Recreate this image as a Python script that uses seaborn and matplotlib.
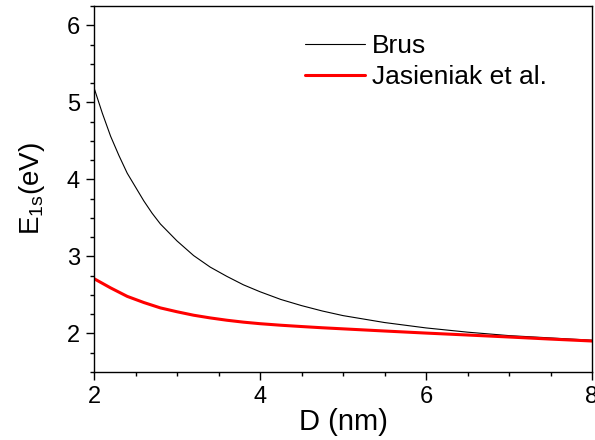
import pandas as pd
import matplotlib
matplotlib.use("Agg")
import matplotlib.pyplot as plt
import seaborn as sns
from matplotlib.ticker import MultipleLocator
from matplotlib.lines import Line2D

# --- data ---
diameter = [2.0, 2.1, 2.2, 2.3, 2.4, 2.5, 2.6, 2.7, 2.8, 2.9, 3.0,
            3.2, 3.4, 3.6, 3.8, 4.0, 4.25, 4.5, 4.75, 5.0,
            5.5, 6.0, 6.5, 7.0, 7.5, 8.0]
brus = [5.19, 4.86, 4.56, 4.31, 4.08, 3.90, 3.72, 3.56, 3.42, 3.31, 3.20,
        3.01, 2.86, 2.74, 2.63, 2.54, 2.44, 2.36, 2.29, 2.23,
        2.14, 2.07, 2.015, 1.97, 1.94, 1.91]
jasieniak = [2.71, 2.65, 2.59, 2.535, 2.48, 2.44, 2.40, 2.365, 2.33, 2.305, 2.28,
             2.235, 2.20, 2.17, 2.145, 2.125, 2.105, 2.088, 2.072, 2.058,
             2.03, 2.003, 1.978, 1.952, 1.925, 1.90]
series_names = ["Brus", "Jasieniak et al."]

df = pd.DataFrame({
    "D": diameter * 2,
    "E": brus + jasieniak,
    "model": [series_names[0]] * len(diameter) + [series_names[1]] * len(diameter),
})

sns.set_theme(style="ticks")
plt.rcParams["font.family"] = ["Liberation Sans", "DejaVu Sans"]
plt.rcParams["mathtext.default"] = "regular"
plt.rcParams["text.color"] = "black"
plt.rcParams["axes.labelcolor"] = "black"

fig = plt.figure(figsize=(5.95, 4.4), dpi=100)
ax = fig.add_axes([0.158, 0.155, 0.837, 0.831])

sns.lineplot(data=df, x="D", y="E", hue="model",
             palette={"Brus": "black", "Jasieniak et al.": "#ff0000"},
             size="model", sizes={"Brus": 0.8, "Jasieniak et al.": 2.2},
             ax=ax, legend=False)

ax.set_xlim(2, 8)
ax.set_ylim(1.5, 6.25)
ax.xaxis.set_major_locator(MultipleLocator(2))
ax.xaxis.set_minor_locator(MultipleLocator(0.5))
ax.yaxis.set_major_locator(MultipleLocator(1))
ax.yaxis.set_minor_locator(MultipleLocator(0.25))

for s in ax.spines.values():
    s.set_linewidth(1.0)
    s.set_color("black")
ax.tick_params(which="major", direction="out", length=6, width=1.0,
               labelsize=17, colors="black", pad=4)
ax.tick_params(which="minor", direction="out", length=3, width=1.0, colors="black")
ax.tick_params(top=False, right=False, which="both")

ax.set_xlabel("D (nm)", fontsize=21, labelpad=0)
ax.set_ylabel("E$_{1s}$(eV)", fontsize=20, labelpad=14)

handles = [Line2D([], [], color="black", lw=0.8),
           Line2D([], [], color="#ff0000", lw=2.2)]
ax.legend(handles, series_names, loc="upper left", bbox_to_anchor=(0.376, 0.988),
          frameon=False, fontsize=19, handlelength=2.27, handletextpad=0.27,
          labelspacing=0.25)

fig.savefig("out.png", dpi=100)
